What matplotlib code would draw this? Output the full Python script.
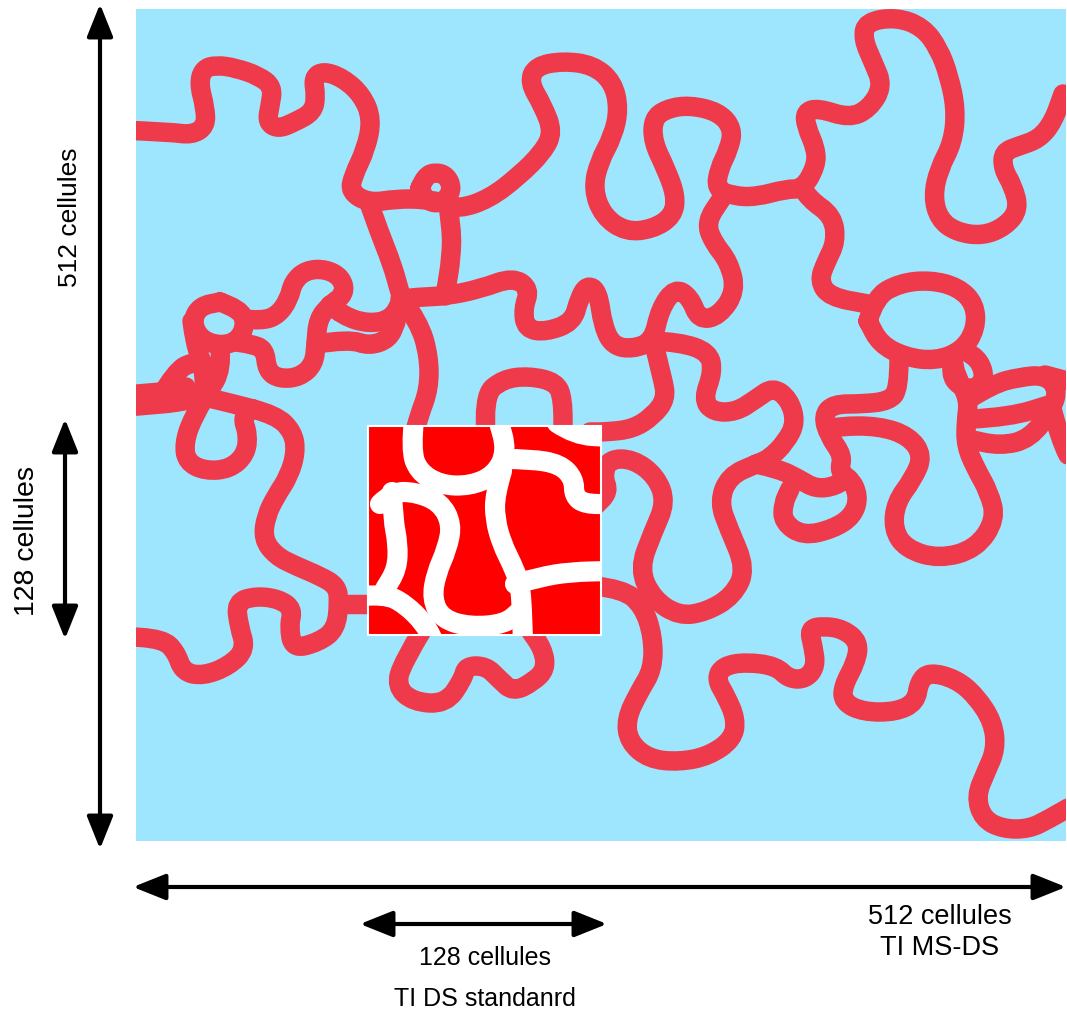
import matplotlib
matplotlib.use("Agg")
import matplotlib.pyplot as plt
from matplotlib.patches import Rectangle, FancyArrowPatch, PathPatch
from matplotlib.path import Path

# map frame (pixel coordinates of the picture)
map_box = (136, 10, 930, 832)
inset_box = (368, 427, 233, 209)

blue = '#9ee6fe'
channel_red = '#ef3a4b'

# channels of the 512x512 map, traced centre lines
channels = [
    [(120, 131), (170, 133), (192, 136), (206, 127), (205, 108), (199, 85), (203, 70), (216, 66), (236, 69),
     (259, 77), (273, 88), (270, 107), (267, 123), (278, 130), (295, 123), (313, 113), (316, 97), (313, 79),
     (323, 72), (343, 79), (362, 96), (372, 120), (366, 150), (353, 177), (350, 193), (369, 204), (396, 200),
     (422, 200), (446, 204), (459, 210), (489, 200), (519, 177), (543, 153), (553, 133), (543, 107), (529, 83),
     (536, 67), (563, 62), (593, 66), (613, 83), (619, 110), (613, 137), (599, 163), (593, 190), (603, 217),
     (626, 233), (653, 230), (673, 217), (676, 197), (666, 170), (653, 143), (653, 120), (666, 110), (689, 106),
     (719, 113), (733, 130), (729, 150), (719, 170), (716, 190), (733, 197), (756, 198), (786, 190), (803, 190),
     (816, 167), (816, 150), (806, 127), (805, 113), (818, 109), (849, 119), (869, 110), (883, 87), (873, 63),
     (863, 40), (866, 23), (896, 18), (923, 28), (939, 50), (949, 77), (956, 110), (953, 143), (939, 170),
     (933, 197), (939, 220), (956, 233), (983, 237), (1006, 227), (1019, 210), (1013, 187), (1003, 170),
     (1003, 153), (1019, 147), (1039, 140), (1053, 123), (1063, 95)],
    [(420, 189), (425, 177), (436, 173), (447, 177), (452, 189), (447, 200), (436, 205), (425, 200), (420, 189)],
    [(447, 200), (452, 230), (451, 260), (447, 285), (445, 297)],
    [(369, 204), (380, 235), (392, 265), (399, 290), (402, 300)],
    [(400, 300), (420, 298), (446, 297), (480, 290), (513, 278), (530, 290), (523, 310), (526, 330), (546, 333),
     (573, 323), (579, 300), (587, 286), (598, 292), (603, 327), (613, 347), (633, 350), (653, 342), (660, 310),
     (675, 289), (690, 298), (699, 321), (719, 317), (736, 292), (729, 263), (713, 243), (706, 223), (722, 199)],
    [(402, 300), (419, 323), (429, 357), (429, 390), (419, 417), (413, 440)],
    [(486, 440), (483, 397), (503, 380), (529, 377), (556, 383), (563, 400), (563, 440)],
    [(653, 342), (663, 380), (666, 400), (653, 417), (633, 430), (606, 433), (590, 433)],
    [(653, 342), (679, 343), (709, 353), (713, 373), (703, 400), (713, 413), (736, 413), (756, 400), (773, 388),
     (789, 400), (796, 423), (786, 443), (769, 460), (756, 465), (729, 477), (719, 503), (729, 530), (746, 570),
     (733, 597), (706, 613), (679, 617), (653, 600), (639, 570), (653, 533), (666, 503), (656, 477), (633, 460),
     (609, 460), (603, 477), (609, 493), (595, 507)],
    [(595, 587), (623, 590), (643, 607), (653, 637), (653, 670), (639, 693), (626, 720), (629, 743), (649, 760),
     (679, 763), (709, 757), (733, 740), (736, 720), (726, 697), (716, 680), (723, 667), (746, 663), (776, 667),
     (789, 680), (806, 680), (816, 667), (813, 647), (809, 630), (823, 627), (843, 630), (859, 643), (856, 663),
     (843, 687), (843, 703), (863, 713), (896, 713), (916, 703), (919, 683), (929, 673), (956, 680), (976, 697),
     (993, 723), (996, 750), (986, 773), (976, 797), (983, 820), (1003, 830), (1029, 830), (1049, 820),
     (1075, 805)],
    [(423, 630), (403, 663), (396, 687), (413, 703), (446, 705), (463, 680), (466, 667), (486, 667), (499, 680),
     (513, 693), (533, 683), (546, 670), (543, 650), (529, 630)],
    [(253, 410), (276, 416), (293, 433), (296, 453), (289, 477), (276, 497), (266, 517), (263, 540), (276, 557),
     (296, 567), (320, 577), (337, 587), (339, 603), (336, 630), (319, 643), (293, 650), (289, 627), (293, 610),
     (279, 600), (256, 597), (236, 603), (239, 627), (246, 650), (229, 667), (203, 677), (183, 673), (176, 653),
     (163, 640), (120, 637)],
    [(339, 605), (375, 605)],
    [(803, 190), (809, 200), (833, 217), (836, 243), (826, 263), (819, 282), (830, 298), (868, 305)],
    [(868, 322), (875, 298), (900, 284), (930, 281), (958, 288), (975, 305), (976, 330), (962, 352), (935, 362),
     (905, 358), (880, 345), (868, 322)],
    [(899, 360), (899, 390), (889, 402), (863, 405), (833, 405), (823, 417), (829, 437), (843, 457), (839, 472),
     (849, 480)],
    [(756, 465), (779, 470), (799, 480), (816, 490), (836, 487), (849, 477), (859, 497), (853, 517), (833, 530),
     (803, 537), (783, 523), (783, 505), (790, 490)],
    [(829, 430), (839, 427), (879, 427), (909, 437), (923, 457), (913, 480), (896, 503), (893, 530), (906, 550),
     (939, 560), (976, 550), (996, 520), (989, 493), (976, 470), (966, 447), (966, 423), (969, 400), (956, 377),
     (953, 360)],
    [(953, 360), (950, 375), (960, 388), (975, 390), (985, 380), (980, 362), (966, 352)],
    [(969, 400), (993, 385), (1020, 378), (1045, 376), (1058, 390), (1052, 410), (1030, 440), (1000, 447),
     (968, 440)],
    [(972, 420), (1010, 418), (1052, 405)],
    [(1052, 410), (1060, 440), (1075, 470)],
    [(1045, 376), (1075, 384)],
    # tangle on the left side
    [(120, 396), (160, 394), (186, 388)],
    [(120, 408), (160, 406), (195, 400)],
    [(160, 398), (176, 372), (192, 363), (205, 366)],
    [(220, 303), (240, 310), (246, 325), (238, 342), (220, 347), (200, 340), (192, 322), (200, 307), (220, 303)],
    [(192, 322), (195, 345), (203, 365), (205, 392)],
    [(220, 347), (222, 370), (208, 394)],
    [(244, 320), (262, 322), (278, 316), (289, 300), (293, 283), (306, 271), (326, 270), (342, 279), (345, 295),
     (330, 306), (318, 320), (316, 345), (314, 365), (300, 378), (280, 380), (267, 372), (265, 350), (250, 345),
     (236, 343)],
    [(330, 306), (343, 317), (369, 325), (392, 320), (402, 300)],
    [(316, 345), (349, 340), (369, 347), (389, 340), (396, 323)],
    [(205, 398), (230, 404), (253, 410)],
    [(205, 398), (192, 420), (184, 445), (187, 463), (205, 472), (230, 470), (246, 455), (248, 435), (242, 418),
     (253, 410)],
]

# channels of the 128x128 standard training image (white on red)
inset_channels = [
    [(414, 420), (411, 450), (418, 472), (440, 486), (470, 487), (495, 476), (507, 452), (498, 420)],
    [(505, 460), (530, 460), (560, 465), (574, 480), (574, 497), (585, 505), (610, 505)],
    [(557, 424), (575, 436), (610, 438)],
    [(502, 472), (495, 495), (495, 520), (502, 545), (512, 565), (520, 585), (522, 610), (523, 645)],
    [(515, 585), (540, 578), (570, 573), (610, 572)],
    [(380, 505), (392, 493), (415, 493), (440, 503), (452, 525), (447, 550), (436, 575), (432, 600), (442, 620),
     (470, 628), (505, 625), (520, 612)],
    [(392, 493), (393, 520), (398, 545), (397, 570), (385, 590)],
    [(360, 597), (385, 595), (405, 605), (425, 625), (435, 645)],
]


def smooth(points):
    # quadratic bezier through the midpoints of the traced polyline
    verts = [points[0]]
    codes = [Path.MOVETO]
    for i in range(1, len(points) - 1):
        mid = ((points[i][0] + points[i + 1][0]) / 2, (points[i][1] + points[i + 1][1]) / 2)
        verts += [points[i], mid]
        codes += [Path.CURVE3, Path.CURVE3]
    verts.append(points[-1])
    codes.append(Path.LINETO)
    return Path(verts, codes)


fig = plt.figure(figsize=(10.67, 10.12), dpi=100)
ax = fig.add_axes([0, 0, 1, 1])
ax.set_xlim(0, 1067)
ax.set_ylim(1012, 0)
ax.axis('off')

bg = Rectangle(map_box[:2], map_box[2], map_box[3], facecolor=blue, edgecolor='none', zorder=1)
ax.add_patch(bg)
for line in channels:
    p = PathPatch(smooth(line), facecolor='none', edgecolor=channel_red, lw=14,
                  joinstyle='round', capstyle='round', zorder=2)
    ax.add_patch(p)
    p.set_clip_path(bg)

inset = Rectangle(inset_box[:2], inset_box[2], inset_box[3], facecolor='#ff0000', edgecolor='none', zorder=3)
ax.add_patch(inset)
for line in inset_channels:
    p = PathPatch(smooth(line), facecolor='none', edgecolor='white', lw=14.5,
                  joinstyle='round', capstyle='round', zorder=4)
    ax.add_patch(p)
    p.set_clip_path(inset)
ax.add_patch(Rectangle(inset_box[:2], inset_box[2], inset_box[3], facecolor='none', edgecolor='white',
                       lw=1.5, zorder=5))

# dimension arrows
arrows = [((100, 5), (100, 850)), ((65, 420), (65, 640)), ((133, 888), (1066, 888)), ((360, 925), (607, 925))]
for a, b in arrows:
    ax.add_patch(FancyArrowPatch(a, b, arrowstyle='<|-|>,head_length=20,head_width=8', mutation_scale=1,
                                 color='black', lw=3, shrinkA=0, shrinkB=0, zorder=6))

font = ['Liberation Sans', 'DejaVu Sans']
ax.text(70, 217, '512 cellules', rotation=90, ha='center', va='center', fontsize=19, family=font)
ax.text(27, 541, '128 cellules', rotation=90, ha='center', va='center', fontsize=20.5, family=font)
ax.text(940, 917, '512 cellules', ha='center', va='center', fontsize=19.5, family=font)
ax.text(940, 948, 'TI MS-DS', ha='center', va='center', fontsize=19.5, family=font)
ax.text(485, 958, '128 cellules', ha='center', va='center', fontsize=18, family=font)
ax.text(485, 999, 'TI DS standanrd', ha='center', va='center', fontsize=18, family=font)

fig.savefig('out.png', dpi=100)
